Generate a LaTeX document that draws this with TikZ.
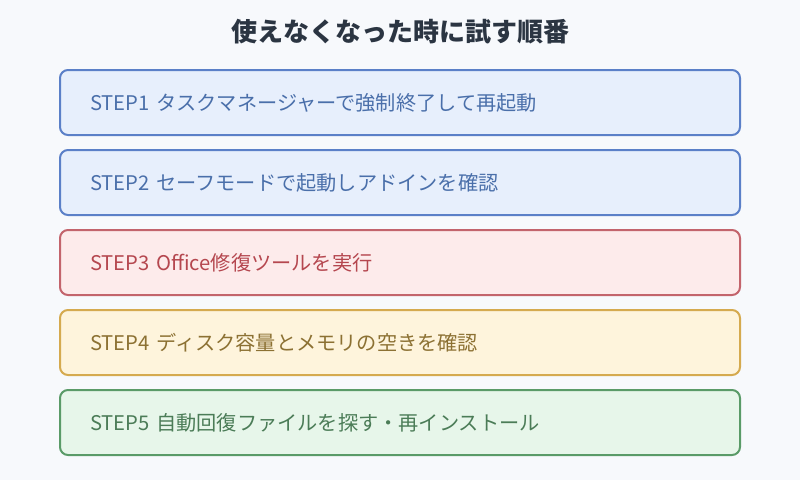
\documentclass[tikz,border=0pt]{standalone}
\usepackage{fontspec}
\setmainfont{Noto Sans CJK JP}
\usetikzlibrary{positioning}

\definecolor{bgcol}{HTML}{F7F9FC}
\definecolor{titlecol}{HTML}{2B3542}
\definecolor{bluefill}{HTML}{E7EFFC}
\definecolor{blueline}{HTML}{5B80C8}
\definecolor{bluetext}{HTML}{4A6FAA}
\definecolor{redfill}{HTML}{FDEBEB}
\definecolor{redline}{HTML}{C3646C}
\definecolor{redtext}{HTML}{B5474F}
\definecolor{yelfill}{HTML}{FEF4DC}
\definecolor{yelline}{HTML}{D5AA4F}
\definecolor{yeltext}{HTML}{8C7133}
\definecolor{grnfill}{HTML}{E7F6EA}
\definecolor{grnline}{HTML}{5A9B68}
\definecolor{grntext}{HTML}{4B7C57}

\begin{document}
\begin{tikzpicture}[x=1pt,y=-1pt]
				\tikzset{stepbox/.style={rectangle,rounded corners=8pt,line width=2pt,minimum height=65pt,text width=620pt,inner xsep=30pt,align=left,font=\fontsize{20.2}{24}\selectfont}}
				\tikzset{bluestep/.style={stepbox,draw=blueline,fill=bluefill,text=bluetext}}
				\tikzset{redstep/.style={stepbox,draw=redline,fill=redfill,text=redtext}}
				\tikzset{yelstep/.style={stepbox,draw=yelline,fill=yelfill,text=yeltext}}
				\tikzset{grnstep/.style={stepbox,draw=grnline,fill=grnfill,text=grntext}}
				\fill[bgcol] (0,0) rectangle (800,480);
				\node[font=\fontsize{26}{30}\selectfont\bfseries,text=titlecol] (title) at (400,32) {使えなくなった時に試す順番};
				\node[bluestep] (s1) at (400,102.5) {STEP1 タスクマネージャーで強制終了して再起動};
				\node[bluestep,below=13pt of s1] (s2) {STEP2 セーフモードで起動しアドインを確認};
				\node[redstep,below=13pt of s2] (s3) {STEP3 Office修復ツールを実行};
				\node[yelstep,below=13pt of s3] (s4) {STEP4 ディスク容量とメモリの空きを確認};
				\node[grnstep,below=13pt of s4] (s5) {STEP5 自動回復ファイルを探す・再インストール};
			\end{tikzpicture}
\end{document}
